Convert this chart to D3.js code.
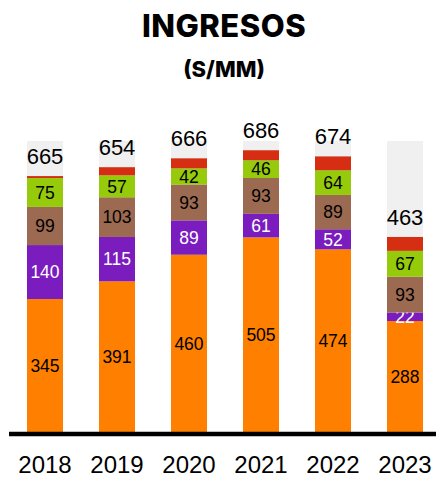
<!DOCTYPE html>
<html><head><meta charset="utf-8">
<script src="https://cdn.jsdelivr.net/npm/d3@7"></script>
<style>body{margin:0;background:#fff}svg{display:block}</style>
</head><body>
<script>
const years = ["2018","2019","2020","2021","2022","2023"];
const orange = [345,391,460,505,474,288];
const purple = [140,115,89,61,52,22];
const brown  = [99,103,93,93,89,93];
const green  = [75,57,42,46,64,67];
const red    = [5,21,26,26,36,36];
const totals = [665,654,666,686,674,463];
const background = [755,755,755,755,755,755];

const series = [
  {key:"orange", values:orange, color:"#FF8000", text:"#000", label:true},
  {key:"purple", values:purple, color:"#7A1CBE", text:"#fff", label:true},
  {key:"brown",  values:brown,  color:"#9B6A50", text:"#000", label:true},
  {key:"green",  values:green,  color:"#96CB0C", text:"#000", label:true},
  {key:"red",    values:red,    color:"#D62E12", text:"#000", label:false}
];

const W=436,H=478;
const svg=d3.select("body").append("svg").attr("width",W).attr("height",H);

const x=d3.scaleBand().domain(years).range([9,441]).paddingInner(0.5).paddingOuter(0.25);
const y=d3.scaleLinear().domain([0,755]).range([432,141]);

svg.append("text").attr("x",224).attr("y",37).attr("text-anchor","middle")
  .style("font-family","Inter, 'Open Sans', sans-serif").style("font-weight",800).style("font-size","31px")
  .style("letter-spacing","0.5px")
  .text("INGRESOS");
svg.append("text").attr("x",224).attr("y",77).attr("text-anchor","middle")
  .style("font-family","Inter, 'Open Sans', sans-serif").style("font-weight",800).style("font-size","22px")
  .text("(S/MM)");

// background bars
svg.append("g").selectAll("rect").data(years).join("rect")
  .attr("x",d=>x(d)).attr("width",x.bandwidth())
  .attr("y",(d,i)=>y(background[i])).attr("height",(d,i)=>y(0)-y(background[i]))
  .attr("fill","#F0F0F0");

const stackTop = years.map(()=>0);
series.forEach(s=>{
  const g=svg.append("g");
  years.forEach((yr,i)=>{
    const y0=stackTop[i], y1=y0+s.values[i];
    g.append("rect").attr("x",x(yr)).attr("width",x.bandwidth())
      .attr("y",y(y1)).attr("height",y(y0)-y(y1)).attr("fill",s.color);
    if(s.label){
      g.append("text").attr("x",x(yr)+x.bandwidth()/2).attr("y",(y(y0)+y(y1))/2)
        .attr("dy","0.36em").attr("text-anchor","middle")
        .style("font-family","'Liberation Sans', Arial, sans-serif").style("font-size","17.5px")
        .attr("fill",s.text).text(s.values[i]);
    }
    stackTop[i]=y1;
  });
});

// totals
svg.append("g").selectAll("text").data(years).join("text")
  .attr("x",d=>x(d)+x.bandwidth()/2).attr("y",(d,i)=>y(stackTop[i])-20)
  .attr("dy","0.36em").attr("text-anchor","middle")
  .style("font-family","'Liberation Sans', Arial, sans-serif").style("font-size","22px")
  .attr("fill","#000").text((d,i)=>totals[i]);

// axis
const axis=svg.append("g").attr("transform","translate(0,432)").call(d3.axisBottom(x).tickSize(0).tickPadding(24));
axis.select(".domain").remove();
axis.append("line").attr("x1",9).attr("x2",436).attr("y1",2).attr("y2",2).attr("stroke","#000").attr("stroke-width",4.5);
axis.selectAll(".tick text").style("font-family","'Liberation Sans', Arial, sans-serif").style("font-size","24px").attr("fill","#000");
</script>
</body></html>
